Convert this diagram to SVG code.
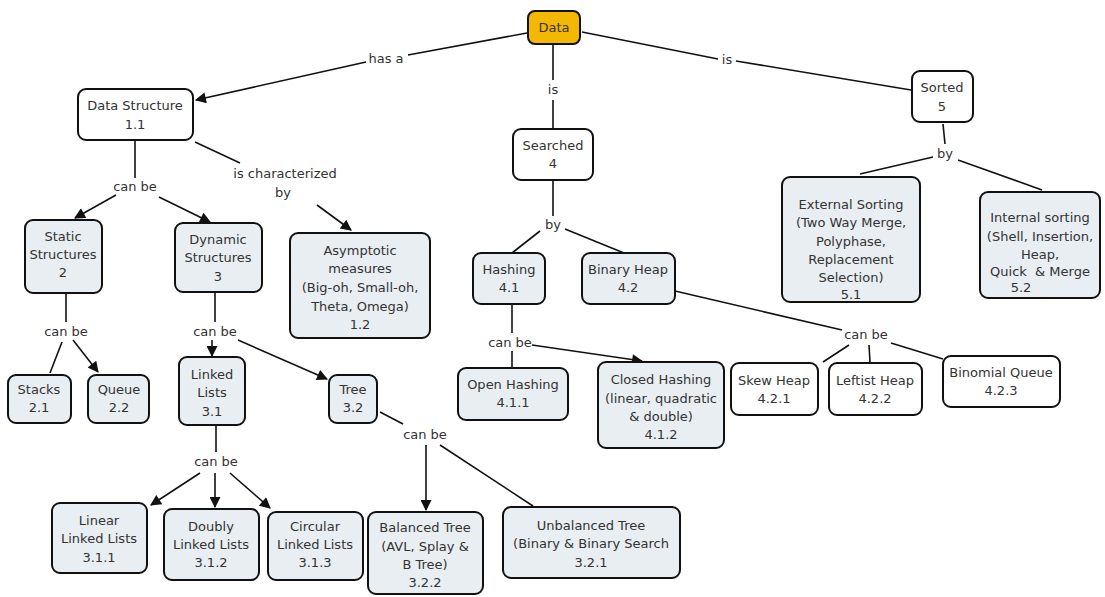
<svg xmlns="http://www.w3.org/2000/svg" width="1105" height="597" viewBox="0 0 1105 597">
<defs>
<style>
.n rect{stroke:#111;stroke-width:2;fill:#e9eef2}
.n.w rect{fill:#fff}
.n.o rect{fill:#f5b800}
text{font-family:"DejaVu Sans","Verdana",sans-serif;font-size:13px;fill:#333;text-anchor:middle}
.c line{stroke:#111;stroke-width:1.6}
.c line.a{marker-end:url(#ah)}
</style>
<marker id="ah" viewBox="0 0 10 10" refX="9" refY="5" markerWidth="13" markerHeight="11" markerUnits="userSpaceOnUse" orient="auto">
<path d="M0,0 L10,5 L0,10 z" fill="#111"/>
</marker>
</defs>
<rect width="1105" height="597" fill="#fff"/>

<g class="c" id="connectors">
<line x1="527" y1="33" x2="408" y2="55"/>
<line class="a" x1="366" y1="62" x2="196" y2="100"/>
<line x1="553" y1="45" x2="553" y2="80"/>
<line x1="553" y1="100" x2="553" y2="128"/>
<line x1="582" y1="32" x2="718" y2="59"/>
<line x1="736" y1="61" x2="911" y2="90"/>
<line x1="135" y1="141" x2="135" y2="178"/>
<line class="a" x1="116" y1="195" x2="75" y2="218"/>
<line class="a" x1="159" y1="197" x2="210" y2="222"/>
<line x1="195" y1="142" x2="240" y2="163"/>
<line class="a" x1="317" y1="205" x2="351" y2="230"/>
<line x1="66" y1="294" x2="66" y2="322"/>
<line x1="62" y1="342" x2="50" y2="373"/>
<line class="a" x1="73" y1="340" x2="98" y2="372"/>
<line x1="215" y1="293" x2="215" y2="322"/>
<line class="a" x1="212" y1="340" x2="212" y2="356"/>
<line class="a" x1="238" y1="340" x2="327" y2="379"/>
<line x1="216" y1="426" x2="216" y2="452"/>
<line class="a" x1="200" y1="473" x2="151" y2="505"/>
<line class="a" x1="215" y1="473" x2="215" y2="507"/>
<line class="a" x1="230" y1="473" x2="270" y2="508"/>
<line x1="380" y1="412" x2="403" y2="424"/>
<line class="a" x1="426" y1="445" x2="426" y2="510"/>
<line x1="440" y1="445" x2="533" y2="506"/>
<line x1="553" y1="181" x2="553" y2="216"/>
<line x1="540" y1="231" x2="512" y2="253"/>
<line x1="565" y1="229" x2="624" y2="253"/>
<line x1="512" y1="305" x2="512" y2="333"/>
<line x1="512" y1="351" x2="512" y2="368"/>
<line class="a" x1="532" y1="345" x2="642" y2="361"/>
<line x1="675" y1="291" x2="842" y2="330"/>
<line x1="849" y1="345" x2="823" y2="362"/>
<line x1="869" y1="345" x2="870" y2="362"/>
<line x1="891" y1="343" x2="943" y2="359"/>
<line x1="943" y1="124" x2="945" y2="144"/>
<line x1="933" y1="157" x2="860" y2="174"/>
<line x1="958" y1="160" x2="1042" y2="190"/>
</g>

<g id="link-labels">
<text x="386" y="63">has a</text>
<text x="553" y="94">is</text>
<text x="727" y="64">is</text>
<text x="135" y="191">can be</text>
<text x="285" y="178">is characterized</text>
<text x="283" y="197">by</text>
<text x="66" y="336">can be</text>
<text x="215" y="336">can be</text>
<text x="216" y="466">can be</text>
<text x="425" y="439">can be</text>
<text x="553" y="229">by</text>
<text x="510" y="347">can be</text>
<text x="866" y="339">can be</text>
<text x="945" y="158">by</text>
</g>

<g id="data" class="n o"><rect x="528" y="11" width="52" height="33" rx="7"/><text x="554" y="32">Data</text></g>
<g id="data-structure" class="n w"><rect x="78" y="89" width="115" height="51" rx="8"/><text x="135" y="110">Data Structure</text><text x="135" y="129">1.1</text></g>
<g id="searched" class="n w"><rect x="513" y="129" width="80" height="51" rx="8"/><text x="553" y="150">Searched</text><text x="553" y="168">4</text></g>
<g id="sorted" class="n w"><rect x="912" y="71" width="61" height="51" rx="8"/><text x="942" y="92">Sorted</text><text x="942" y="111">5</text></g>

<g id="static" class="n"><rect x="25" y="220" width="77" height="73" rx="8"/><text x="63" y="241">Static</text><text x="63" y="259">Structures</text><text x="63" y="277">2</text></g>
<g id="dynamic" class="n"><rect x="175" y="223" width="87" height="69" rx="8"/><text x="218" y="244">Dynamic</text><text x="218" y="262">Structures</text><text x="218" y="281">3</text></g>
<g id="asymptotic" class="n"><rect x="290" y="233" width="140" height="105" rx="8"/><text x="360" y="255">Asymptotic</text><text x="360" y="273">measures</text><text x="360" y="292">(Big-oh, Small-oh,</text><text x="360" y="311">Theta, Omega)</text><text x="360" y="329">1.2</text></g>

<g id="hashing" class="n"><rect x="473" y="253" width="72" height="51" rx="8"/><text x="509" y="274">Hashing</text><text x="509" y="292">4.1</text></g>
<g id="binary-heap" class="n"><rect x="582" y="253" width="93" height="51" rx="8"/><text x="628" y="274">Binary Heap</text><text x="628" y="292">4.2</text></g>
<g id="external" class="n"><rect x="782" y="177" width="138" height="125" rx="8"/><text x="851" y="209">External Sorting</text><text x="851" y="227">(Two Way Merge,</text><text x="851" y="246">Polyphase,</text><text x="851" y="264">Replacement</text><text x="851" y="282">Selection)</text><text x="851" y="299">5.1</text></g>
<g id="internal" class="n"><rect x="980" y="192" width="120" height="106" rx="8"/><text x="1040" y="222">Internal sorting</text><text x="1040" y="241">(Shell, Insertion,</text><text x="1040" y="259">Heap,</text><text x="1040" y="276">Quick&#160; &amp; Merge</text><text x="1021" y="292">5.2</text></g>

<g id="stacks" class="n"><rect x="8" y="375" width="63" height="48" rx="8"/><text x="39" y="394">Stacks</text><text x="39" y="412">2.1</text></g>
<g id="queue" class="n"><rect x="88" y="375" width="61" height="48" rx="8"/><text x="119" y="394">Queue</text><text x="119" y="412">2.2</text></g>
<g id="linked-lists" class="n"><rect x="179" y="357" width="66" height="68" rx="8"/><text x="212" y="379">Linked</text><text x="212" y="397">Lists</text><text x="212" y="416">3.1</text></g>
<g id="tree" class="n"><rect x="329" y="375" width="48" height="48" rx="8"/><text x="353" y="394">Tree</text><text x="353" y="412">3.2</text></g>

<g id="open-hashing" class="n"><rect x="458" y="368" width="110" height="52" rx="8"/><text x="513" y="389">Open Hashing</text><text x="513" y="407">4.1.1</text></g>
<g id="closed-hashing" class="n"><rect x="598" y="362" width="126" height="86" rx="8"/><text x="661" y="384">Closed Hashing</text><text x="661" y="403">(linear, quadratic</text><text x="661" y="421">&amp; double)</text><text x="661" y="439">4.1.2</text></g>
<g id="skew-heap" class="n w"><rect x="731" y="363" width="87" height="52" rx="8"/><text x="774" y="385">Skew Heap</text><text x="774" y="403">4.2.1</text></g>
<g id="leftist-heap" class="n w"><rect x="829" y="363" width="93" height="52" rx="8"/><text x="875" y="385">Leftist Heap</text><text x="875" y="403">4.2.2</text></g>
<g id="binomial-queue" class="n w"><rect x="943" y="356" width="117" height="51" rx="8"/><text x="1001" y="377">Binomial Queue</text><text x="1001" y="395">4.2.3</text></g>

<g id="linear" class="n"><rect x="52" y="503" width="95" height="70" rx="8"/><text x="99" y="525">Linear</text><text x="99" y="543">Linked Lists</text><text x="99" y="562">3.1.1</text></g>
<g id="doubly" class="n"><rect x="164" y="509" width="95" height="71" rx="8"/><text x="211" y="531">Doubly</text><text x="211" y="549">Linked Lists</text><text x="211" y="567">3.1.2</text></g>
<g id="circular" class="n"><rect x="268" y="512" width="95" height="68" rx="8"/><text x="315" y="531">Circular</text><text x="315" y="549">Linked Lists</text><text x="315" y="567">3.1.3</text></g>
<g id="balanced" class="n"><rect x="368" y="512" width="115" height="82" rx="8"/><text x="425" y="532">Balanced Tree</text><text x="425" y="551">(AVL, Splay &amp;</text><text x="425" y="569">B Tree)</text><text x="425" y="587">3.2.2</text></g>
<g id="unbalanced" class="n"><rect x="503" y="507" width="177" height="71" rx="8"/><text x="591" y="530">Unbalanced Tree</text><text x="591" y="548">(Binary &amp; Binary Search</text><text x="591" y="567">3.2.1</text></g>
</svg>
